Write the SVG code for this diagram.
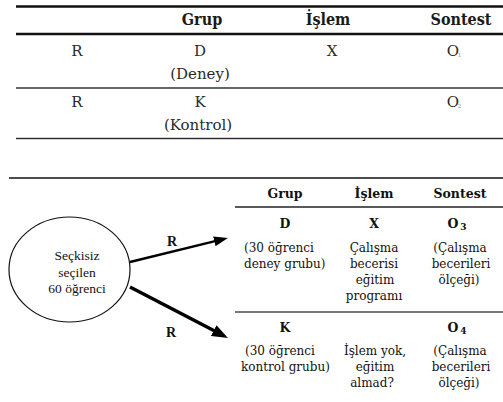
<svg xmlns="http://www.w3.org/2000/svg" width="503" height="402" viewBox="0 0 503 402">
<defs>
<style>
.th{font-family:"DejaVu Serif Condensed","DejaVu Serif",serif;font-stretch:condensed;font-weight:bold;font-size:16px;fill:#1a1a1a;text-anchor:middle}
.tr{font-family:"DejaVu Serif",serif;font-size:15px;fill:#2a2a2a;text-anchor:middle}
.sub{font-family:"DejaVu Serif",serif;font-size:5px;fill:#777}
.lh{font-family:"DejaVu Serif",serif;font-weight:bold;font-size:12.5px;fill:#111;text-anchor:middle}
.lt{font-family:"DejaVu Serif",serif;font-size:12px;fill:#111}
.c{text-anchor:middle}
.el{font-family:"Liberation Serif",serif;font-size:13.5px;fill:#111;text-anchor:middle}
.rl{font-family:"Liberation Serif",serif;font-weight:bold;font-size:14px;fill:#111;text-anchor:middle}
</style>
<marker id="ah1" viewBox="0 0 10 10" refX="4.3" refY="5" markerWidth="14" markerHeight="10" markerUnits="userSpaceOnUse" orient="auto" preserveAspectRatio="none"><path d="M0,0 L10,5 L0,10 Z" fill="#000"/></marker>
<marker id="ah2" viewBox="0 0 10 10" refX="4.4" refY="5" markerWidth="16" markerHeight="12" markerUnits="userSpaceOnUse" orient="auto" preserveAspectRatio="none"><path d="M0,0 L10,5 L0,10 Z" fill="#000"/></marker>
</defs>

<g id="top-table">
<line x1="16" y1="6.5" x2="503" y2="6.5" stroke="#111" stroke-width="2.5"/>
<line x1="16" y1="34" x2="503" y2="34" stroke="#111" stroke-width="2.5"/>
<line x1="16" y1="88" x2="503" y2="88" stroke="#333" stroke-width="1.3"/>
<line x1="16" y1="138.5" x2="503" y2="138.5" stroke="#333" stroke-width="1.3"/>
<text class="th" x="202" y="25">Grup</text>
<text class="th" x="328" y="25">İşlem</text>
<text class="th" x="461" y="25">Sontest</text>
<text class="tr" x="77" y="56">R</text>
<text class="tr" x="200" y="56">D</text>
<text class="tr" x="200" y="79">(Deney)</text>
<text class="tr" x="332" y="56">X</text>
<text class="tr" x="453" y="56">O</text><text class="sub" x="458" y="57">1</text>
<text class="tr" x="77" y="107">R</text>
<text class="tr" x="200" y="107">K</text>
<text class="tr" x="198" y="130">(Kontrol)</text>
<text class="tr" x="453" y="107">O</text><text class="sub" x="458" y="108">2</text>
</g>

<line x1="9" y1="178" x2="503" y2="178" stroke="#111" stroke-width="1.5"/>

<g id="source">
<ellipse cx="69.5" cy="269.5" rx="60.5" ry="52.5" fill="#fff" stroke="#111" stroke-width="1.2"/>
<text class="el" x="77" y="260">Seçkisiz</text>
<text class="el" x="77" y="277">seçilen</text>
<text class="el" x="77" y="293">60 öğrenci</text>
</g>

<g id="connectors">
<line x1="130" y1="262" x2="220.2" y2="239.9" stroke="#000" stroke-width="2.5" marker-end="url(#ah1)"/>
<text class="rl" x="172" y="246">R</text>
<line x1="130" y1="287" x2="220" y2="333.8" stroke="#000" stroke-width="3.5" marker-end="url(#ah2)"/>
<text class="rl" x="171" y="337">R</text>
</g>

<g id="lower-table">
<line x1="235" y1="207" x2="503" y2="207" stroke="#222" stroke-width="1.5"/>
<line x1="235" y1="312" x2="503" y2="312" stroke="#777" stroke-width="2"/>
<text class="lh" x="285" y="198">Grup</text>
<text class="lh" x="374" y="198">İşlem</text>
<text class="lh" x="460" y="198">Sontest</text>
</g>

<g id="group-D">
<text class="lh" x="285" y="228">D</text>
<text class="lt" x="244" y="252">(30 öğrenci</text>
<text class="lt" x="244" y="268">deney grubu)</text>
</g>
<g id="treatment-X">
<text class="lh" x="374" y="228">X</text>
<text class="lt c" x="374" y="252">Çalışma</text>
<text class="lt c" x="374" y="268">becerisi</text>
<text class="lt c" x="375" y="284">eğitim</text>
<text class="lt c" x="374" y="300">programı</text>
</g>
<g id="posttest-O3">
<text class="lh" x="457" y="228">O<tspan font-size="9" dx="2" dy="2">3</tspan></text>
<text class="lt c" x="460" y="252">(Çalışma</text>
<text class="lt c" x="461" y="268">becerileri</text>
<text class="lt c" x="459" y="284">ölçeği)</text>
</g>
<g id="group-K">
<text class="lh" x="285" y="332">K</text>
<text class="lt" x="245" y="355">(30 öğrenci</text>
<text class="lt" x="241" y="371">kontrol grubu)</text>
</g>
<g id="treatment-none">
<text class="lt c" x="375" y="355">İşlem yok,</text>
<text class="lt c" x="375" y="371">eğitim</text>
<text class="lt c" x="372" y="387">almad?</text>
</g>
<g id="posttest-O4">
<text class="lh" x="457" y="332">O<tspan font-size="9" dx="2" dy="2">4</tspan></text>
<text class="lt c" x="460" y="355">(Çalışma</text>
<text class="lt c" x="461" y="371">becerileri</text>
<text class="lt c" x="459" y="387">ölçeği)</text>
</g>
</svg>
